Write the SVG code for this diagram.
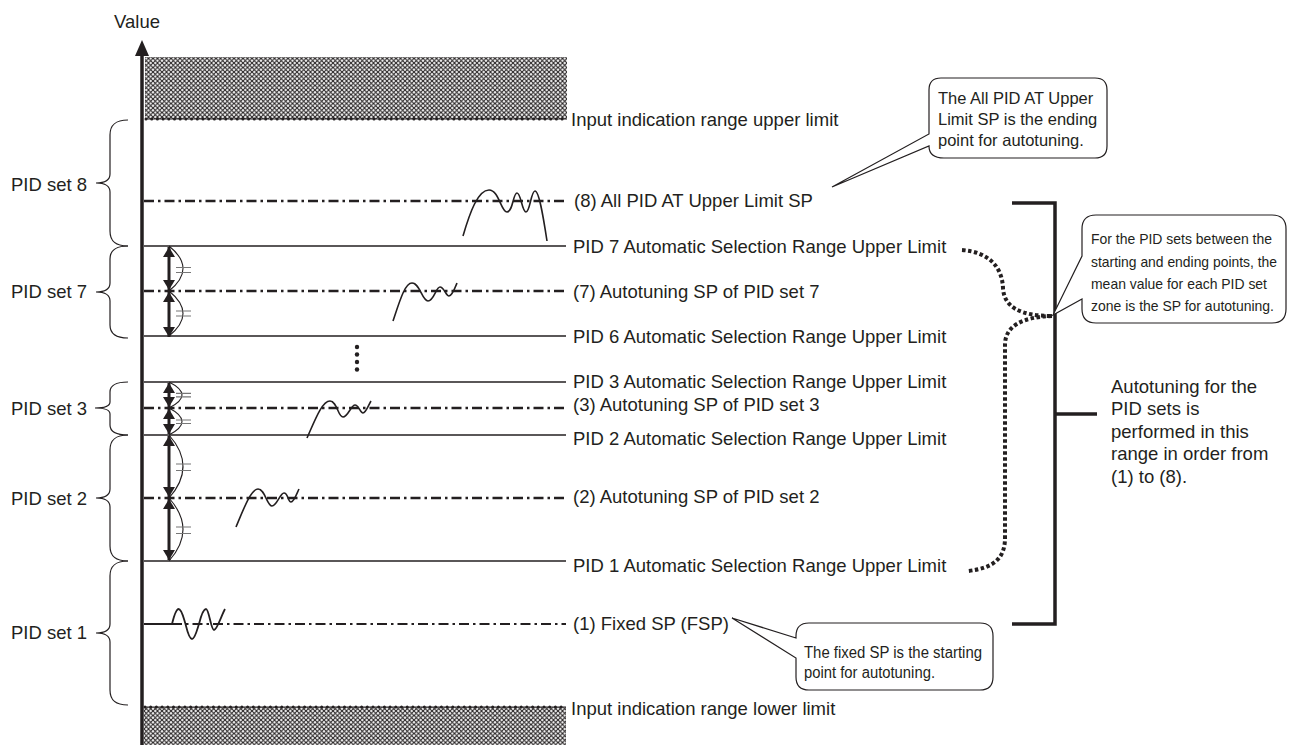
<svg xmlns="http://www.w3.org/2000/svg" width="1292" height="745" viewBox="0 0 1292 745">
<style>
text{font-family:"Liberation Sans",Arial,sans-serif;fill:#231f20}
.t{font-size:18.5px}
.c{font-size:15px}
.solid{stroke:#231f20;stroke-width:1.3;fill:none}
.dd{stroke:#231f20;stroke-width:2.4;fill:none;stroke-dasharray:10 4 2.5 4}
.wave{stroke:#231f20;stroke-width:1.6;fill:none}
.brace{stroke:#231f20;stroke-width:1.2;fill:none}
.arc{stroke:#231f20;stroke-width:1.1;fill:none}
.eq{stroke:#777;stroke-width:1.2}
.dim{stroke:#231f20;stroke-width:3;fill:none}
.dots{stroke:#231f20;stroke-width:3;stroke-linecap:round;stroke-dasharray:0 5.7;fill:none}
.call{fill:#fff;stroke:#231f20;stroke-width:1.2}
.thick{stroke:#231f20;stroke-width:3.5;fill:none}
.dotc{stroke:#231f20;stroke-width:4;fill:none;stroke-dasharray:3.5 2.5}
</style>
<defs>
<pattern id="hatch" patternUnits="userSpaceOnUse" width="4.5" height="4.5">
<rect width="4.5" height="4.5" fill="#fff"/>
<path d="M0,0 L4.5,4.5 M4.5,0 L0,4.5" stroke="#231f20" stroke-width="1.1"/>
</pattern>
<marker id="ah" viewBox="0 0 10 12" refX="10" refY="6" markerWidth="10" markerHeight="12" markerUnits="userSpaceOnUse" orient="auto-start-reverse">
<path d="M0,0 L10,6 L0,12 z" fill="#231f20"/>
</marker>
</defs>
<rect width="1292" height="745" fill="#fff"/>

<g id="ranges">
<rect x="145" y="57" width="422" height="62" fill="url(#hatch)"/>
<line x1="145" y1="119" x2="567" y2="119" stroke="#231f20" stroke-width="1"/>
<line x1="146" y1="119" x2="567" y2="119" class="dots"/>
<rect x="144" y="707" width="422" height="38" fill="url(#hatch)"/>
<line x1="144" y1="707" x2="566" y2="707" stroke="#231f20" stroke-width="1"/>
<line x1="145" y1="707" x2="566" y2="707" class="dots"/>
</g>

<g id="axis">
<line x1="142" y1="54" x2="142" y2="745" stroke="#231f20" stroke-width="3.5"/>
<polygon points="142,40 135,56 149,56" fill="#231f20"/>
<text class="t" x="137" y="28" text-anchor="middle">Value</text>
</g>

<g id="levels">
<line class="dd" x1="144" y1="201" x2="566" y2="201"/>
<line class="solid" x1="144" y1="246" x2="566" y2="246"/>
<line class="dd" x1="144" y1="291" x2="566" y2="291"/>
<line class="solid" x1="144" y1="336" x2="566" y2="336"/>
<line class="solid" x1="144" y1="382" x2="566" y2="382"/>
<line class="dd" x1="144" y1="408" x2="566" y2="408"/>
<line class="solid" x1="144" y1="435" x2="566" y2="435"/>
<line class="dd" x1="144" y1="498" x2="566" y2="498"/>
<line class="solid" x1="144" y1="561" x2="566" y2="561"/>
<line class="dd" x1="172" y1="624" x2="566" y2="624" style="stroke-width:1.9"/>
<g fill="#231f20">
<circle cx="357" cy="347" r="2.2"/><circle cx="357" cy="354.5" r="2.2"/><circle cx="357" cy="362" r="2.2"/><circle cx="357" cy="369.5" r="2.2"/>
</g>
</g>

<g id="level-labels">
<text class="t" x="571" y="126">Input indication range upper limit</text>
<text class="t" x="574" y="207">(8) All PID AT Upper Limit SP</text>
<text class="t" x="573" y="253">PID 7 Automatic Selection Range Upper Limit</text>
<text class="t" x="573" y="298">(7) Autotuning SP of PID set 7</text>
<text class="t" x="573" y="343">PID 6 Automatic Selection Range Upper Limit</text>
<text class="t" x="573" y="388">PID 3 Automatic Selection Range Upper Limit</text>
<text class="t" x="573" y="411">(3) Autotuning SP of PID set 3</text>
<text class="t" x="573" y="445">PID 2 Automatic Selection Range Upper Limit</text>
<text class="t" x="573" y="503">(2) Autotuning SP of PID set 2</text>
<text class="t" x="573" y="572">PID 1 Automatic Selection Range Upper Limit</text>
<text class="t" x="573" y="630">(1) Fixed SP (FSP)</text>
<text class="t" x="571" y="715">Input indication range lower limit</text>
</g>

<g id="responses">
<path class="wave" d="M463 236 C470 212 478 190 489 190 C499 190 501 212 507 212 C513 212 513 193 517 193 C521 193 522 212 526 212 C530 212 531 191 535 191 C539 191 543 215 547 241"/>
<path class="wave" d="M393 321 C400 300 405 283 412 283 C420 283 422 301 428 301 C434 301 436 287 440 287 C444 287 446 296 449 296 C452 296 455 288 457 283"/>
<path class="wave" d="M307 438 C315 420 322 401 330 401 C337 401 338 417 343 417 C348 417 351 405 355 405 C359 405 360 413 363 413 C366 413 369 404 371 401"/>
<path class="wave" d="M236 527 C244 508 251 489 258 489 C265 489 267 506 272 506 C277 506 280 493 284 493 C288 493 288 502 291 502 C294 502 297 493 299 489"/>
<path class="wave" style="stroke-width:1.8" d="M144 624 L172 624 C174 616 176 609 178.5 609 C182 609 184 620 185.5 624 C187 630 189 639 192 639 C195 639 197 630 199 624 C201 616 203 609 206 609 C209 609 211 630 214 630 C217 630 222 614 225 609"/>
</g>

<g id="half-zones">
<line class="dim" x1="169" y1="247" x2="169" y2="290" marker-start="url(#ah)" marker-end="url(#ah)"/>
<line class="dim" x1="169" y1="292" x2="169" y2="337" marker-start="url(#ah)" marker-end="url(#ah)"/>
<path class="arc" d="M169 246 Q197 268.5 169 291"/>
<path class="arc" d="M169 291 Q197 313.5 169 336"/>
<path class="eq" d="M176 267.5 H191 M176 272.5 H191 M176 311 H191 M176 316 H191"/>

<line class="dim" x1="169" y1="383" x2="169" y2="407" marker-start="url(#ah)" marker-end="url(#ah)"/>
<line class="dim" x1="169" y1="409" x2="169" y2="434" marker-start="url(#ah)" marker-end="url(#ah)"/>
<path class="arc" d="M169 382 Q195 395 169 408"/>
<path class="arc" d="M169 408 Q195 421.5 169 435"/>
<path class="eq" d="M176 393.3 H191 M176 396.8 H191 M176 420 H191 M176 423.5 H191"/>

<line class="dim" x1="169" y1="436" x2="169" y2="497" marker-start="url(#ah)" marker-end="url(#ah)"/>
<line class="dim" x1="169" y1="499" x2="169" y2="560" marker-start="url(#ah)" marker-end="url(#ah)"/>
<path class="arc" d="M169 435 Q197 466.5 169 498"/>
<path class="arc" d="M169 498 Q197 529.5 169 561"/>
<path class="eq" d="M176 464 H191 M176 470.5 H191 M176 527 H191 M176 533.5 H191"/>
</g>

<g id="pid-set-braces">
<path class="brace" d="M128 120 C115 120 110 125 110 135 L110 174 C110 180 105 183 96 183 C105 183 110 186 110 192 L110 231 C110 241 115 246 128 246"/>
<path class="brace" d="M128 246 C115 246 110 251 110 259 L110 283 C110 289 105 292 96 292 C105 292 110 295 110 301 L110 325 C110 333 115 338 128 338"/>
<path class="brace" d="M128 382 C116 382 110 386 110 392 L110 402 C110 406 105 408 95 408 C105 408 110 410 110 414 L110 425 C110 431 116 435 128 435"/>
<path class="brace" d="M128 435 C115 435 110 440 110 450 L110 489 C110 495 105 498 96 498 C105 498 110 501 110 507 L110 546 C110 556 115 561 128 561"/>
<path class="brace" d="M128 561 C115 561 110 566 110 576 L110 624 C110 630 105 633 96 633 C105 633 110 636 110 642 L110 690 C110 700 115 705 128 705"/>
</g>

<g id="pid-set-labels">
<text class="t" x="87" y="191" text-anchor="end">PID set 8</text>
<text class="t" x="87" y="298" text-anchor="end">PID set 7</text>
<text class="t" x="87" y="415" text-anchor="end">PID set 3</text>
<text class="t" x="87" y="505" text-anchor="end">PID set 2</text>
<text class="t" x="87" y="639" text-anchor="end">PID set 1</text>
</g>

<g id="connectors">
<path class="dotc" d="M962 250 C988 252 1002 266 1003 288 C1004 307 1020 316 1052 316"/>
<path class="dotc" d="M1052 316 C1022 317 1005 326 1005 345 L1005 538 C1005 558 994 568 968 571"/>
<path class="thick" d="M1012 203 L1055 203 L1055 624 L1012 624"/>
<line class="thick" x1="1055" y1="414" x2="1097" y2="414"/>
</g>

<g id="range-note">
<text class="t" x="1111" y="393">Autotuning for the</text>
<text class="t" x="1111" y="415">PID sets is</text>
<text class="t" x="1111" y="438">performed in this</text>
<text class="t" x="1111" y="460">range in order from</text>
<text class="t" x="1111" y="483">(1) to (8).</text>
</g>

<g id="callout-end">
<path class="call" d="M941 78 H1095 Q1107 78 1107 90 V146 Q1107 158 1095 158 H944 Q929 158 929 146 L832 187 L929 134 V90 Q929 78 941 78 Z"/>
<text x="938" y="104" style="font-size:16.5px">The All PID AT Upper</text>
<text x="938" y="125" style="font-size:16.5px">Limit SP is the ending</text>
<text x="938" y="146" style="font-size:16.5px">point for autotuning.</text>
</g>

<g id="callout-mean">
<path class="call" d="M1096 215 H1272 Q1286 215 1286 229 V309 Q1286 323 1272 323 H1096 Q1082 323 1082 309 V299 L1053 315 L1082 256 V229 Q1082 215 1096 215 Z"/>
<text class="c" x="1091" y="244" textLength="181" lengthAdjust="spacingAndGlyphs">For the PID sets between the</text>
<text class="c" x="1091" y="267" textLength="186" lengthAdjust="spacingAndGlyphs">starting and ending points, the</text>
<text class="c" x="1091" y="289" textLength="176" lengthAdjust="spacingAndGlyphs">mean value for each PID set</text>
<text class="c" x="1091" y="311" textLength="183" lengthAdjust="spacingAndGlyphs">zone is the SP for autotuning.</text>
</g>

<g id="callout-start">
<path class="call" d="M809 623 H980 Q993 623 993 636 V677 Q993 690 980 690 H809 Q796 690 796 677 V658 L732 618 L796 638 V636 Q796 623 809 623 Z"/>
<text x="804" y="658" style="font-size:16px" textLength="178" lengthAdjust="spacingAndGlyphs">The fixed SP is the starting</text>
<text x="804" y="678" style="font-size:16px" textLength="131" lengthAdjust="spacingAndGlyphs">point for autotuning.</text>
</g>
</svg>
